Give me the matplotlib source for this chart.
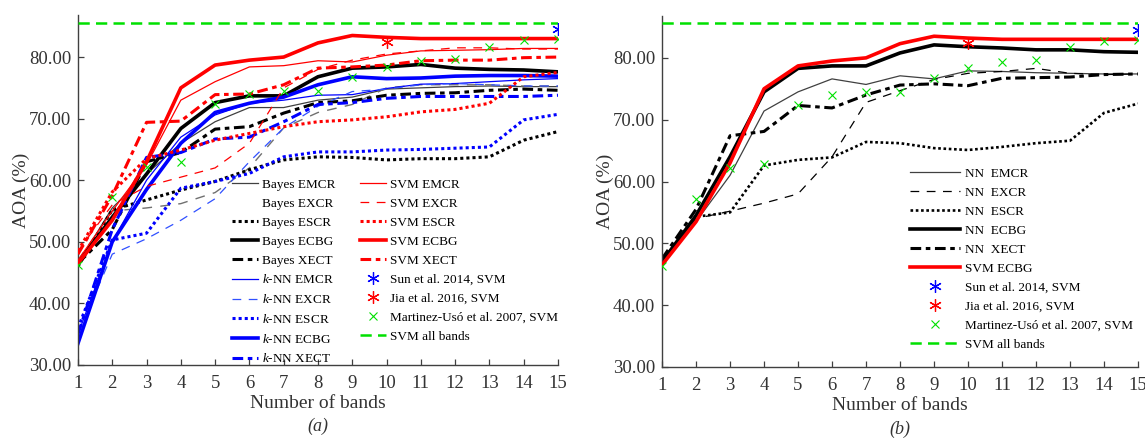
import matplotlib

matplotlib.use("Agg")
import matplotlib.pyplot as plt
from matplotlib.lines import Line2D

plt.rcParams["font.family"] = ["Liberation Serif", "DejaVu Serif"]
plt.rcParams["mathtext.fontset"] = "custom"
plt.rcParams["mathtext.it"] = "Liberation Serif:italic"
plt.rcParams["mathtext.rm"] = "Liberation Serif"

INK = "#333333"
RED = "#ff0000"
BLUE = "#0000ff"
GREEN = "#00e000"

BANDS = [1, 2, 3, 4, 5, 6, 7, 8, 9, 10, 11, 12, 13, 14, 15]

# (a) Bayes / k-NN / SVM with five band-selection criteria
bayes_emcr = [46.5, 55.5, 61.0, 66.0, 69.5, 71.8, 71.8, 73.0, 73.5, 74.8, 75.0, 75.2, 75.3, 75.2, 75.2]
bayes_excr = [47.0, 55.0, 55.5, 56.2, 58.0, 62.0, 68.5, 71.0, 72.3, 75.0, 75.5, 75.5, 75.5, 75.3, 75.3]
bayes_escr = [46.0, 55.2, 56.8, 58.4, 59.8, 61.7, 63.3, 63.8, 63.7, 63.3, 63.5, 63.5, 63.8, 66.5, 67.9]
bayes_ecbg = [46.5, 54.0, 61.0, 68.4, 72.6, 73.7, 73.7, 76.8, 78.2, 78.4, 78.8, 78.2, 78.0, 77.9, 77.6]
bayes_xect = [46.5, 52.0, 63.0, 64.5, 68.3, 68.7, 70.9, 72.6, 72.9, 73.8, 74.1, 74.2, 74.6, 74.8, 74.6]
knn_emcr = [35.0, 50.0, 60.0, 67.0, 70.6, 72.5, 73.0, 73.8, 73.9, 74.9, 75.6, 75.7, 76.0, 76.3, 76.5]
knn_excr = [35.0, 48.0, 50.5, 53.5, 57.0, 63.0, 68.5, 72.0, 74.4, 74.8, 75.5, 75.7, 75.5, 75.3, 75.3]
knn_escr = [36.0, 50.3, 51.4, 58.7, 59.8, 61.1, 63.8, 64.6, 64.6, 64.9, 65.0, 65.2, 65.4, 69.8, 70.7]
knn_ecbg = [33.5, 50.0, 58.5, 66.0, 71.0, 72.5, 73.5, 75.5, 76.8, 76.5, 76.6, 76.9, 77.0, 77.0, 76.9]
knn_xect = [35.0, 52.0, 63.7, 64.5, 66.7, 67.0, 69.5, 72.3, 72.6, 73.3, 73.6, 73.6, 73.6, 73.6, 73.8]
svm_emcr = [47.0, 55.0, 62.5, 73.0, 76.0, 78.4, 78.6, 79.4, 79.2, 80.3, 81.0, 81.1, 81.2, 81.4, 81.4]
svm_excr = [48.5, 56.0, 59.0, 60.5, 62.0, 66.0, 75.0, 78.0, 79.5, 80.5, 81.0, 81.5, 81.5, 81.3, 81.3]
svm_escr = [48.5, 58.1, 63.5, 64.9, 66.5, 67.6, 68.7, 69.5, 69.8, 70.3, 71.1, 71.5, 72.5, 76.8, 77.5]
svm_ecbg = [46.5, 53.5, 63.0, 75.0, 78.7, 79.5, 80.0, 82.3, 83.5, 83.2, 83.0, 83.0, 83.0, 83.0, 83.0]
svm_xect = [48.0, 57.5, 69.4, 69.6, 73.9, 74.0, 75.5, 78.2, 78.4, 78.7, 79.4, 79.5, 79.5, 79.9, 80.0]

# (b) neural network vs best SVM
nn_emcr = [46.5, 53.5, 61.0, 71.4, 74.5, 76.6, 75.7, 77.1, 76.6, 77.9, 77.8, 77.6, 77.5, 77.4, 77.4]
nn_excr = [47.0, 54.0, 55.2, 56.5, 58.0, 64.0, 72.8, 74.7, 76.5, 77.5, 77.8, 78.3, 77.5, 77.3, 77.4]
nn_escr = [47.0, 54.3, 55.0, 62.6, 63.5, 63.9, 66.4, 66.2, 65.4, 65.1, 65.6, 66.2, 66.6, 71.1, 72.6]
nn_ecbg = [47.0, 54.5, 64.0, 74.5, 78.3, 78.7, 78.7, 80.8, 82.1, 81.8, 81.6, 81.3, 81.3, 81.0, 80.9]
nn_xect = [47.5, 55.5, 67.4, 68.1, 72.3, 71.9, 74.0, 75.6, 75.8, 75.5, 76.7, 76.8, 76.9, 77.3, 77.4]

# published reference results
martinez_aoa = [46.3, 57.2, 62.2, 62.9, 72.4, 74.0, 74.5, 74.5, 76.7, 78.4, 79.3, 79.7, 81.7, 82.7, 82.9]
sun_bands, sun_aoa = [15], [84.5]
jia_bands, jia_aoa = [10], [82.4]
all_bands_aoa = 85.6

DOT = (0, (1, 1))
DASHDOT = (0, (3.5, 1.5, 1.5, 1.5))
THIN_DASH = (0, (7, 6))


def curve(ax, y, color, ls="-", lw=0.9, label=None, z=2):
    return ax.plot(BANDS, y, color=color, ls=ls, lw=lw, label=label, zorder=z)[0]


def references(ax):
    sun = ax.plot(sun_bands, sun_aoa, ls="none", marker=(6, 2, 0), ms=9, mew=0.9,
                  color=BLUE, label="Sun et al. 2014, SVM", zorder=6)[0]
    jia = ax.plot(jia_bands, jia_aoa, ls="none", marker=(6, 2, 0), ms=9, mew=0.9,
                  color=RED, label="Jia et al. 2016, SVM", zorder=6)[0]
    mar = ax.plot(BANDS, martinez_aoa, ls="none", marker="x", ms=6, mew=0.8,
                  color=GREEN, label="Martinez-Usó et al. 2007, SVM", zorder=6)[0]
    full = ax.plot([BANDS[0], BANDS[-1]], [all_bands_aoa, all_bands_aoa], color=GREEN,
                   ls=(0, (4.5, 2.5)), lw=1.8, label="SVM all bands", zorder=5)[0]
    return [sun, jia, mar, full]


def style(ax, tag):
    ax.set_xlim(1, 15)
    ax.set_ylim(30, 86.8)
    ax.set_xticks(BANDS)
    ax.set_yticks([30, 40, 50, 60, 70, 80])
    ax.set_yticklabels([f"{v:.2f}" for v in ax.get_yticks()])
    for side in ("top", "right"):
        ax.spines[side].set_visible(False)
    for side in ("left", "bottom"):
        ax.spines[side].set_color("#404040")
        ax.spines[side].set_linewidth(1.0)
    ax.tick_params(direction="in", length=4, width=0.9, color="#404040",
                   labelsize=13.5, labelcolor=INK)
    ax.tick_params(axis="x", pad=7)
    ax.tick_params(axis="y", pad=5)
    ax.set_xlabel("Number of bands", fontsize=14, color=INK)
    ax.xaxis.set_label_coords(0.5, -0.085)
    ax.set_ylabel("AOA (%)", fontsize=14, color=INK)
    ax.yaxis.set_label_coords(-0.1, 0.5)
    ax.text(0.5, -0.152, tag, transform=ax.transAxes, ha="center", va="top",
            fontsize=13, style="italic", color=INK)


fig = plt.figure(figsize=(11.45, 4.4), dpi=100)
axA = fig.add_axes([0.0681, 0.1705, 0.4192, 0.795])
axB = fig.add_axes([0.5782, 0.166, 0.4157, 0.798])

# --- (a) ---------------------------------------------------------------
h = [
    curve(axA, bayes_emcr, "#404040", label="Bayes EMCR"),
    curve(axA, bayes_excr, "#707070", THIN_DASH, 1.0, "Bayes EXCR"),
    curve(axA, bayes_escr, "black", DOT, 2.2, "Bayes ESCR"),
    curve(axA, bayes_ecbg, "black", "-", 2.6, "Bayes ECBG"),
    curve(axA, bayes_xect, "black", DASHDOT, 2.2, "Bayes XECT"),
    curve(axA, knn_emcr, BLUE, label="$k$-NN EMCR"),
    curve(axA, knn_excr, "#3050ff", THIN_DASH, 0.9, "$k$-NN EXCR"),
    curve(axA, knn_escr, BLUE, DOT, 2.2, "$k$-NN ESCR"),
    curve(axA, knn_ecbg, BLUE, "-", 2.6, "$k$-NN ECBG"),
    curve(axA, knn_xect, BLUE, DASHDOT, 2.2, "$k$-NN XECT"),
    curve(axA, svm_emcr, RED, label="SVM EMCR", z=3),
    curve(axA, svm_excr, RED, THIN_DASH, 0.9, "SVM EXCR", z=3),
    curve(axA, svm_escr, RED, DOT, 2.2, "SVM ESCR", z=3),
    curve(axA, svm_ecbg, RED, "-", 2.6, "SVM ECBG", z=3),
    curve(axA, svm_xect, RED, DASHDOT, 2.2, "SVM XECT", z=3),
]
h += references(axA)
# the Bayes EXCR key carries no visible sample
h[1] = Line2D([], [], color="none", label="Bayes EXCR")
axA.legend(handles=h, ncol=2, loc="upper left", bbox_to_anchor=(0.2026, 0.594),
           bbox_transform=fig.transFigure, frameon=False, fontsize=9.5,
           handlelength=2.0, handletextpad=0.25, columnspacing=1.9,
           labelspacing=0.51, borderpad=0, borderaxespad=0, numpoints=1)
style(axA, "(a)")

# --- (b) ---------------------------------------------------------------
hb = [
    curve(axB, nn_emcr, "#404040", label="NN  EMCR"),
    curve(axB, nn_excr, "black", THIN_DASH, 0.9, "NN  EXCR"),
    curve(axB, nn_escr, "black", DOT, 1.9, "NN  ESCR"),
    curve(axB, nn_ecbg, "black", "-", 2.6, "NN  ECBG"),
    curve(axB, nn_xect, "black", DASHDOT, 2.2, "NN  XECT"),
    curve(axB, svm_ecbg, RED, "-", 2.6, "SVM ECBG", z=3),
]
hb += references(axB)
axB.legend(handles=hb, loc="upper left", bbox_to_anchor=(0.7948, 0.619),
           bbox_transform=fig.transFigure, frameon=False, fontsize=9.5,
           handlelength=3.8, handletextpad=0.35, labelspacing=0.51,
           borderpad=0, borderaxespad=0, numpoints=1)
style(axB, "(b)")

fig.savefig("out.png", dpi=100)
